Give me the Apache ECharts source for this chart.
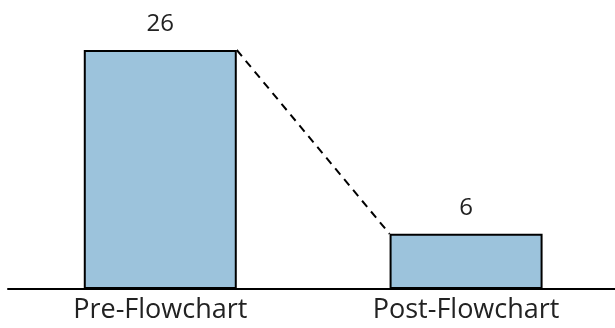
<!DOCTYPE html>
<html>
<head>
<meta charset="utf-8">
<script src="https://cdn.jsdelivr.net/npm/echarts@6/dist/echarts.min.js"></script>
<style>
html, body { margin: 0; padding: 0; background: #fff; }
#chart { width: 615px; height: 328px; }
</style>
</head>
<body>
<div id="chart"></div>
<script>
const categories = ['Pre-Flowchart', 'Post-Flowchart'];
const counts = [26, 6];
const positions = [0, 1];

const FONT = '"Open Sans", Lato, sans-serif';
const BAR_WIDTH = 153;

const chart = echarts.init(document.getElementById('chart'), null, { renderer: 'canvas' });

const option = {
  animation: false,
  grid: { left: 8, right: 0, top: 50, bottom: 39, containLabel: false },
  xAxis: {
    type: 'value',
    min: -0.498,
    max: 1.487,
    axisLine: { show: true, onZero: false, lineStyle: { color: '#000', width: 2 } },
    axisTick: { show: false },
    splitLine: { show: false },
    axisLabel: {
      customValues: positions,
      formatter: function (v) { return categories[Math.round(v)]; },
      color: '#222',
      fontFamily: FONT,
      fontSize: 27,
      margin: 8
    }
  },
  yAxis: {
    type: 'value',
    min: 0,
    max: 26,
    show: false
  },
  series: [
    {
      type: 'bar',
      data: positions.map((p, i) => [p, counts[i]]),
      barWidth: BAR_WIDTH,
      itemStyle: { color: '#9cc3dc', borderColor: '#000', borderWidth: 2 },
      label: {
        show: true,
        position: 'top',
        distance: 14,
        color: '#222',
        fontFamily: FONT,
        fontSize: 24,
        formatter: function (p) { return p.value[1]; }
      },
      z: 2
    },
    {
      // dashed connector from the right top corner of the first bar to the left top corner of the second
      type: 'custom',
      data: [[positions[0], counts[0], positions[1], counts[1]]],
      renderItem: function (params, api) {
        const p1 = api.coord([api.value(0), api.value(1)]);
        const p2 = api.coord([api.value(2), api.value(3)]);
        const half = BAR_WIDTH / 2;
        return {
          type: 'line',
          shape: { x1: p1[0] + half, y1: p1[1], x2: p2[0] - half, y2: p2[1] },
          style: { stroke: '#000', lineWidth: 2, lineDash: [8, 6] }
        };
      },
      z: 3
    }
  ]
};

chart.setOption(option);
</script>
</body>
</html>
